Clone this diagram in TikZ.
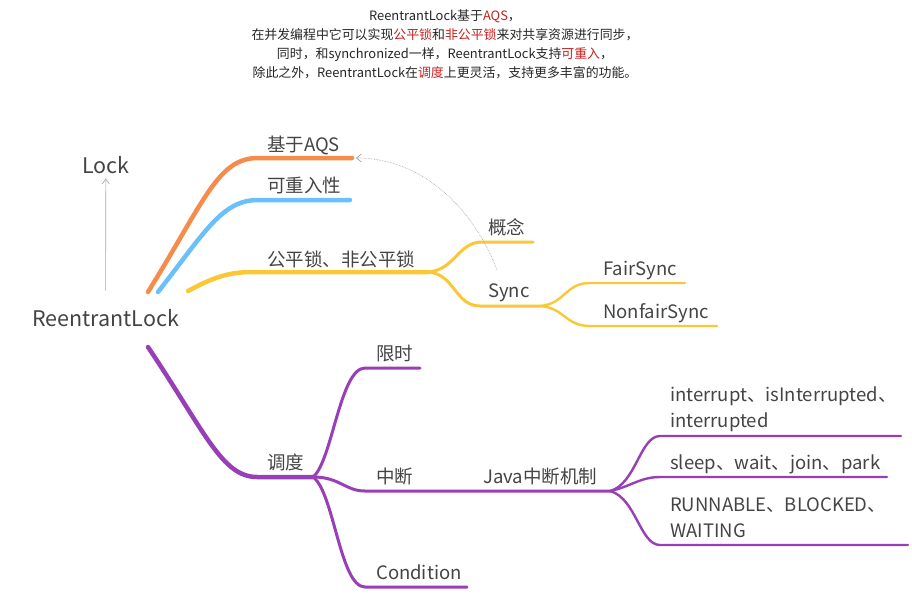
\documentclass[tikz,border=0pt]{standalone}
\usepackage{fontspec}
\setmainfont{Noto Sans CJK SC}
\usetikzlibrary{arrows.meta}

\definecolor{hlred}{RGB}{200,32,30}
\definecolor{txtgray}{RGB}{68,68,68}
\definecolor{orangeb}{RGB}{245,140,75}
\definecolor{blueb}{RGB}{105,192,250}
\definecolor{yellowb}{RGB}{250,200,55}
\definecolor{purpleb}{RGB}{152,62,182}
\newcommand{\hl}[1]{\textcolor{hlred}{#1}}

\begin{document}
\begin{tikzpicture}[
                x=1pt, y=-1pt,
                every node/.style={inner sep=0pt, text=txtgray},
                lbl/.style={anchor=base west, font=\fontsize{18.5}{22}\selectfont},
                big/.style={anchor=base west, font=\fontsize{21.5}{26}\selectfont},
                main/.style={line width=4.5pt, line cap=round},
                sub/.style={line width=3pt, line cap=round},
                leaf/.style={line width=2.4pt, line cap=round},
                thin/.style={draw=gray!70, line width=0.6pt, -{Straight Barb[length=5pt,width=7pt]}}
            ]
            \useasboundingbox (0,0) rectangle (912,598);

            % intro text
            \node[text=black!85, align=center, font=\fontsize{12.9}{19}\selectfont] (intro) at (445,44)
                {ReentrantLock基于\hl{AQS}，\\
                 在并发编程中它可以实现\hl{公平锁}和\hl{非公平锁}来对共享资源进行同步，\\
                 同时，和synchronized一样，ReentrantLock支持\hl{可重入}，\\
                 除此之外，ReentrantLock在\hl{调度}上更灵活，支持更多丰富的功能。};

            % root and parent
            \node[big] (rl) at (32,326) {ReentrantLock};
            \node[big] (lock) at (82,173) {Lock};
            \draw[thin, shorten <=18pt, shorten >=5pt] (rl.north) -- (lock.south);

            % branch points
            \coordinate (o0) at (148,292);
            \coordinate (o1) at (258,158);
            \coordinate (o2) at (352,158);
            \coordinate (b0) at (158,292);
            \coordinate (b1) at (258,200);
            \coordinate (b2) at (350,200);
            \coordinate (y0) at (188,291);
            \coordinate (y1) at (252,272);
            \coordinate (yf) at (428,272);
            \coordinate (p0) at (148,347);
            \coordinate (p1) at (257,477);
            \coordinate (pf) at (313,477);
            \coordinate (jf) at (610,491);
            \coordinate (sf) at (540,306);

            % orange / blue / yellow
            \draw[main, orangeb] (o0) .. controls (205,200) and (218,158) .. (o1) -- (o2);
            \draw[main, blueb] (b0) .. controls (205,232) and (222,200) .. (b1) -- (b2);
            \draw[main, yellowb] (y0) .. controls (212,278) and (228,272) .. (y1) -- (yf);
            \node[lbl] (aqs) at (267,151) {基于AQS};
            \node[lbl] (reent) at (267,192) {可重入性};
            \node[lbl] (fair) at (267,266) {公平锁、非公平锁};

            \draw[sub, yellowb] (yf) .. controls (455,270) and (458,242) .. (482,242) -- (533,242);
            \draw[sub, yellowb] (yf) .. controls (455,274) and (455,306) .. (480,306) -- (sf);
            \node[lbl] (concept) at (488,234) {概念};
            \node[lbl] (sync) at (488,297) {Sync};

            \draw[leaf, yellowb] (sf) .. controls (565,304) and (565,283) .. (590,283) -- (685,283);
            \draw[leaf, yellowb] (sf) .. controls (565,308) and (565,326) .. (590,326) -- (717,326);
            \node[lbl] (fs) at (603,275) {FairSync};
            \node[lbl] (nfs) at (603,318) {NonfairSync};

            \draw[gray!80, line width=0.6pt, densely dotted, -{Straight Barb[length=5pt,width=8pt]}]
                (497,270) .. controls (475,212) and (425,158) .. (356,158);

            % purple
            \draw[main, purpleb] (p0) .. controls (205,432) and (222,477) .. (p1) -- (pf);
            \node[lbl] (sched) at (267,469) {调度};

            \draw[sub, purpleb] (pf) .. controls (332,462) and (340,368) .. (365,368) -- (420,368);
            \draw[sub, purpleb] (pf) .. controls (340,477) and (345,491) .. (365,491) -- (jf);
            \draw[sub, purpleb] (pf) .. controls (334,492) and (340,587) .. (365,587) -- (467,587);
            \node[lbl] (timed) at (376,360) {限时};
            \node[lbl] (intr) at (376,483) {中断};
            \node[lbl] (java) at (483,483) {Java中断机制};
            \node[lbl] (cond) at (376,579) {Condition};

            \draw[leaf, purpleb] (jf) .. controls (636,484) and (640,436) .. (660,436) -- (901,436);
            \draw[leaf, purpleb] (jf) .. controls (630,487) and (640,477) .. (660,477) -- (887,477);
            \draw[leaf, purpleb] (jf) .. controls (636,498) and (640,545) .. (660,545) -- (908,545);
            \node[lbl] (m1) at (670,401) {interrupt、isInterrupted、};
            \node[lbl] (m1b) at (670,427) {interrupted};
            \node[lbl] (m2) at (670,469) {sleep、wait、join、park};
            \node[lbl] (m3) at (670,511) {RUNNABLE、BLOCKED、};
            \node[lbl] (m3b) at (670,537) {WAITING};

        \end{tikzpicture}
\end{document}
